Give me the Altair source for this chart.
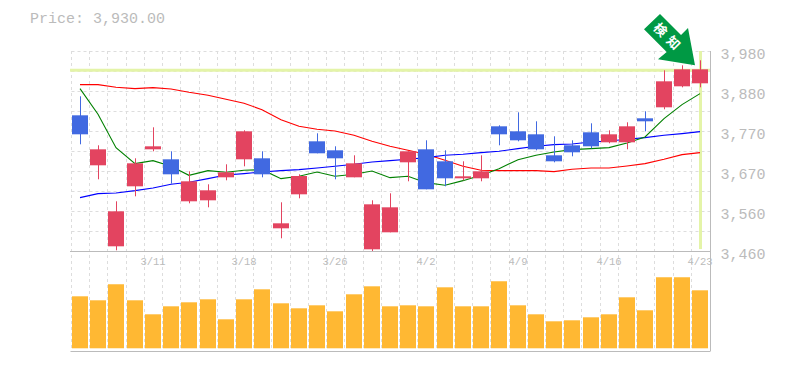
import altair as alt
import pandas as pd

open_top = [3812.8,3724.4,3563.2,3688,3732.2,3698.4,3641.2,3617.8,3664.6,3771.2,3701,3532,3655,3745.2,3721.8,3688,3581.4,3573.6,3719.2,3724.4,3693.2,3654.2,3667.2,3784.2,3771.2,3763.4,3708.8,3734.8,3768.6,3763.4,3784.2,3805,3901.2,3932.4,3932.4]
body_low = [3763.4,3682.8,3472.2,3628.2,3724.4,3659.4,3589.2,3591.8,3651.6,3698.4,3659.4,3519,3607.4,3714,3701,3651.6,3464.4,3508.6,3690.6,3620.4,3649,3649,3649,3763.4,3747.8,3724.4,3693.2,3716.6,3732.2,3742.6,3742.6,3797.2,3833.6,3888.2,3896]
wick_high = [3862.2,3734.8,3589.2,3701,3781.6,3719.2,3667.2,3633.4,3685.4,3773.8,3719.2,3586.6,3659.4,3766,3732.2,3708.8,3591.8,3610,3719.2,3747.8,3721.8,3693.2,3708.8,3786.8,3820.6,3797.2,3758.2,3747.8,3792,3773.8,3794.6,3823.2,3929.8,3942.8,3955.8]
wick_low = [3737.4,3646.4,3461.8,3602.2,3719.2,3635,3584,3573.6,3643.8,3680.2,3651.6,3493,3597,3714,3646.4,3651.6,3460,3508.6,3641.2,3620.4,3628.2,3643.8,3641.2,3734.8,3745.2,3721.8,3690.6,3706.2,3727,3740,3724.4,3771.2,3828.4,3885.6,3885.6]
direction = list("drrrrdrrrrdrrddrrrrddrrddddddrrdrrr")
ma_red = [3892.5,3892.5,3885.6,3882.1,3884.8,3881.3,3872.6,3864.8,3854.4,3844,3827.5,3801.5,3784.2,3776.4,3772.1,3760.8,3745.2,3732.2,3721.8,3711.4,3695.8,3680.2,3669.8,3668.9,3668.9,3668.9,3666.3,3672.4,3675.9,3675.9,3681.1,3687.1,3698.4,3710.5,3715.8]
ma_blue = [3598.7,3609.1,3610.9,3616.9,3623.9,3633.4,3638.6,3648.1,3657.7,3661.1,3665.5,3668.9,3671.5,3675.9,3680.2,3685.4,3691.5,3694.9,3698.4,3702.7,3708.8,3711.4,3715.7,3719.2,3726.1,3732.2,3736.5,3738.3,3743.5,3746.1,3750.4,3754.7,3760.8,3765.1,3770.3]
ma_green = [3882.1,3815.4,3728.7,3687.1,3694.9,3680.2,3656.8,3668.9,3664.6,3669.8,3671.5,3648.1,3654.2,3665.5,3654.2,3659.4,3668.1,3650.7,3654.2,3637.7,3630.8,3642.9,3656.8,3674.1,3697.5,3708.8,3717.5,3723.5,3726.1,3728.7,3740.9,3756.5,3804.1,3840.5,3869.1]
volume = [52,48,64,48,34,42,46,49,29,49,59,45,40,43,37,54,62,42,43,42,61,42,42,67,43,34,27,28,31,34,51,38,71,71,58]
date_idx = [4,9,14,19,24,29,34]
date_txt = ["3/11","3/18","3/26","4/2","4/9","4/16","4/23"]
price_ticks = [3980,3928,3876,3824,3772,3720,3668,3616,3564,3512,3460]
grid_x = [i - 0.5 for i in range(35)]
last_price = 3930
note_x = [31.8, 32.52]
note_y = [4033.8, 4000]
note_txt = ["検", "知"]

df = pd.DataFrame({"i": range(35), "top": open_top, "low": body_low, "hi": wick_high, "lo": wick_low,
                   "dir": direction, "red": ma_red, "blue": ma_blue, "green": ma_green, "vol": volume})
dates = pd.DataFrame({"i": date_idx, "t": date_txt})
note = pd.DataFrame({"x": note_x, "y": note_y, "t": note_txt})

GRAY = "#bbbbbb"
GRID = "#dddddd"
FONT = "Liberation Mono"
xscale = alt.Scale(domain=[-0.548, 34.548], round=True, nice=False, zero=False, padding=0)
pscale = alt.Scale(domain=[3460, 3980], range=[200, 0], nice=False, zero=False)
vscale = alt.Scale(domain=[-2.7, 97.3], range=[300, 200], nice=False, zero=False)
xaxis = alt.Axis(values=grid_x, title=None, labels=False, ticks=False, domain=True, domainColor=GRAY, domainWidth=1, grid=False)
pcolor = alt.Color("dir:N", legend=None, scale=alt.Scale(domain=["r", "d"], range=["#e34460", "#4169e1"]))
X = alt.X("i:Q", scale=xscale, axis=xaxis)

base = alt.Chart(df)
price_axis = alt.Axis(orient="right", values=price_ticks, title=None, domain=False, ticks=False, labelPadding=10,
                      labelFont=FONT, labelFontSize=15, labelColor=GRAY, labelOffset=2,
                      labelExpr="indexof([3980,3876,3772,3668,3564,3460], datum.value) >= 0 ? format(round(datum.value/10)*10, ',') : ''",
                      labelOverlap=False, labelFlush=False,
                      grid=True, gridColor=GRID, gridDash=[3, 3], gridWidth=1)

vgrid = alt.Chart(pd.DataFrame({"i": grid_x})).mark_rule(color=GRID, strokeWidth=1, strokeDash=[3, 3], xOffset=0.5).encode(x=X)

hline = alt.Chart(pd.DataFrame({"p": [last_price]})).mark_rule(color="#e4f4a8", strokeWidth=3).encode(
    y=alt.Y("p:Q", scale=pscale, axis=price_axis))
vline = alt.Chart(pd.DataFrame({"i": [34], "a": [3980], "b": [3465]})).mark_rule(color="#e4f4a8", strokeWidth=3, xOffset=0.5).encode(
    x=X, y=alt.Y("a:Q", scale=pscale, axis=price_axis), y2="b:Q")


def ma(col, color):
    return base.mark_line(color=color, strokeWidth=1.1).encode(
        x=X, y=alt.Y(f"{col}:Q", scale=pscale, axis=price_axis))


wicks = base.mark_rule(strokeWidth=1, xOffset=0.5).encode(x=X, y=alt.Y("hi:Q", scale=pscale, axis=price_axis), y2="lo:Q", color=pcolor)
bodies = base.mark_bar(size=16, orient="vertical").encode(x=X, y=alt.Y("top:Q", scale=pscale, axis=price_axis), y2="low:Q", color=pcolor)
midline = alt.Chart(pd.DataFrame({"p": [3460]})).mark_rule(color=GRAY, strokeWidth=1, yOffset=0.5).encode(
    y=alt.Y("p:Q", scale=pscale, axis=price_axis))

arrow_path = "M-10,-26.3 L-26,-11 L-3.3,11.7 L-12,19 L25,25 L18,-12.3 L11,-5.3 Z"
arrow = alt.Chart(pd.DataFrame({"i": [32.35], "p": [4007.8]})).mark_point(
    shape=arrow_path, size=4, filled=True, fill="#009944", opacity=1).encode(
    x=X, y=alt.Y("p:Q", scale=pscale, axis=price_axis))
note_marks = alt.Chart(note).mark_text(font="Noto Sans CJK JP", fontWeight="bold", fontSize=13, color="white", angle=45,
                                       baseline="middle", align="center").encode(
    x=alt.X("x:Q", scale=xscale, axis=xaxis), y=alt.Y("y:Q", scale=pscale, axis=price_axis), text="t:N")

price_layer = alt.layer(hline, vline, ma("red", "#ff0000"), ma("blue", "#0000ff"), ma("green", "#008000"),
                        wicks, bodies, midline, arrow, note_marks)

vol_layer = base.mark_bar(size=16, orient="vertical", color="#ffb833").encode(
    x=X, y=alt.Y("vol:Q", scale=vscale, axis=None))

right_edge = alt.Chart(pd.DataFrame({"i": [34.548]})).mark_rule(color=GRAY, strokeWidth=1, xOffset=0.5).encode(x=X)
date_marks = alt.Chart(dates).mark_text(font=FONT, fontSize=10.5, color=GRAY, baseline="middle", align="center").encode(
    x=X, y=alt.value(211), text="t:N")
title_mark = alt.Chart(pd.DataFrame({"t": ["Price: 3,930.00"]})).mark_text(
    font=FONT, fontSize=15, color=GRAY, baseline="middle", align="left").encode(
    x=alt.value(-40), y=alt.value(-33), text="t:N")

chart = alt.layer(vgrid, vol_layer, price_layer, right_edge, date_marks, title_mark).resolve_scale(y="independent").properties(
    width=640, height=300, padding={"left": 22, "top": 3, "right": 5, "bottom": 5}
).configure_view(stroke=None)

chart.save("out.html", embed_options={"renderer": "svg", "actions": False})
